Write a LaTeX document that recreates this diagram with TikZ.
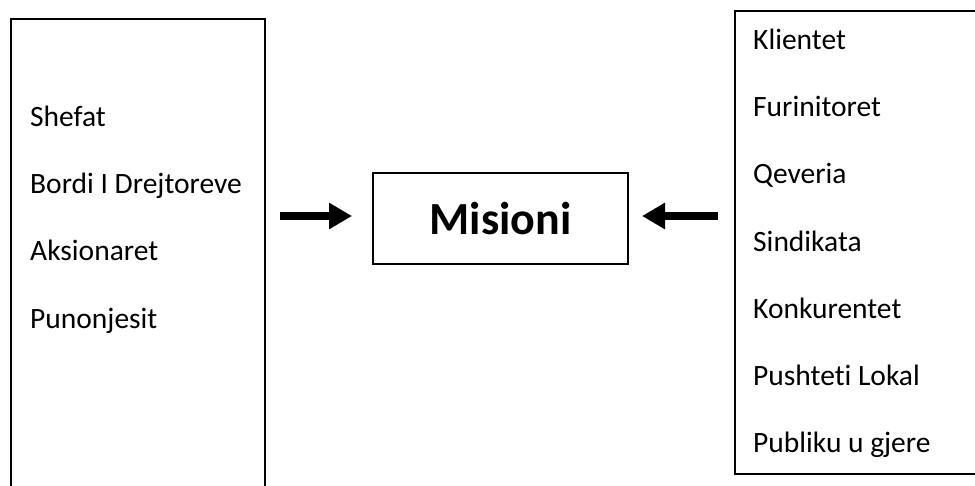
\documentclass[tikz,border=0pt]{standalone}
\usepackage{fontspec}
\setmainfont{Carlito}[Ligatures=NoCommon]
\usetikzlibrary{arrows.meta,positioning}

\begin{document}
\begin{tikzpicture}[x=1pt, y=-1pt, >={Triangle[length=23pt,width=25pt]},
  box/.style={draw, line width=2pt, inner sep=0pt, anchor=north west},
  item/.style={anchor=base west, inner sep=0pt, font=\fontsize{29.5}{33}\selectfont},
  pijl/.style={->, line width=8pt}]
\useasboundingbox (0,0) rectangle (975,485);
% kutite
\node[box, minimum width=254pt, minimum height=490pt] (brenda) at (10,18) {};
\node[box, minimum width=255pt, minimum height=91pt] (misioni) at (372,172) {};
\node[font=\bfseries\fontsize{46}{50}\selectfont, inner sep=0pt] (titull) at (misioni.center) {Misioni};
\node[box, minimum width=250pt, minimum height=463.5pt] (jashte) at (734,9.5) {};
% grupet e brendshme
\node[item] (shefat) at (30,126) {Shefat};
\node[item] (bordi) at (30,193) {Bordi I Drejtoreve};
\node[item] (aksion) at (30,260) {Aksionaret};
\node[item] (punon) at (30,328) {Punonjesit};
% grupet e jashtme
\node[item] (klient) at (753,49) {Klientet};
\node[item] (furn) at (753,116) {Furinitoret};
\node[item] (qever) at (753,183) {Qeveria};
\node[item] (sindik) at (753,251) {Sindikata};
\node[item] (konk) at (753,318) {Konkurentet};
\node[item] (pusht) at (753,385) {Pushteti Lokal};
\node[item] (publ) at (753,452) {Publiku u gjere};
% shigjetat
\coordinate (majtas) at (280,216);
\coordinate (djathtas) at (718,216);
\draw[pijl] (majtas) -- ([xshift=-20pt]majtas -| misioni.west);
\draw[pijl] (djathtas) -- ([xshift=13pt]djathtas -| misioni.east);
\end{tikzpicture}
\end{document}
